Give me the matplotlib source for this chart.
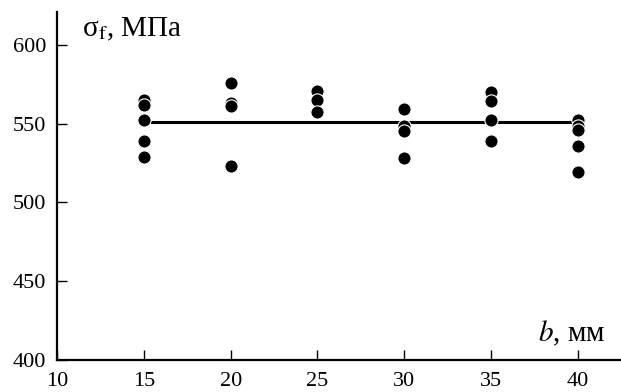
import matplotlib
matplotlib.use('Agg')
import matplotlib.pyplot as plt

plt.rcParams['font.family'] = ['Liberation Serif', 'DejaVu Serif']
plt.rcParams['mathtext.fontset'] = 'stix'

# Measured strength for each specimen width
b_15 = [565, 561.5, 552, 539, 529]
b_20 = [576, 563, 561, 523]
b_25 = [571, 565, 557.5]
b_30 = [559, 548.5, 545.5, 528]
b_35 = [570, 564.5, 552, 539]
b_40 = [552, 548.5, 546, 536, 519]

widths = [15, 20, 25, 30, 35, 40]
groups = [b_15, b_20, b_25, b_30, b_35, b_40]
mean_sigma = 551
mean_range = [15, 40]

fig = plt.figure(figsize=(6.21, 3.92), dpi=100)
ax = fig.add_axes([0.092, 0.082, 0.908, 0.888])

# Mean line
ax.plot(mean_range, [mean_sigma, mean_sigma], color='black', lw=2.2, zorder=2)

# Scatter points, white rim shows overlap
for x, vals in zip(widths, groups):
    ax.plot([x] * len(vals), vals, 'o', color='black', ms=9.5,
            mec='white', mew=0.8, zorder=3, clip_on=False)

ax.set_xlim(10, 42.5)
ax.set_ylim(400, 621)
ax.set_xticks([10, 15, 20, 25, 30, 35, 40])
ax.set_yticks([400, 450, 500, 550, 600])

for s in ['top', 'right']:
    ax.spines[s].set_visible(False)
for s in ['left', 'bottom']:
    ax.spines[s].set_linewidth(1.6)

ax.tick_params(direction='in', length=7, width=1, labelsize=16)
ax.tick_params(axis='x', pad=9)
ax.tick_params(axis='y', pad=8)

ax.text(0.044, 0.928, r'σ$_\mathrm{f}$, МПа', transform=ax.transAxes,
        fontsize=21, ha='left', va='baseline')
ax.text(0.972, 0.052, r'$b$, мм', transform=ax.transAxes,
        fontsize=21, ha='right', va='baseline')

fig.savefig('out.png', dpi=100)
